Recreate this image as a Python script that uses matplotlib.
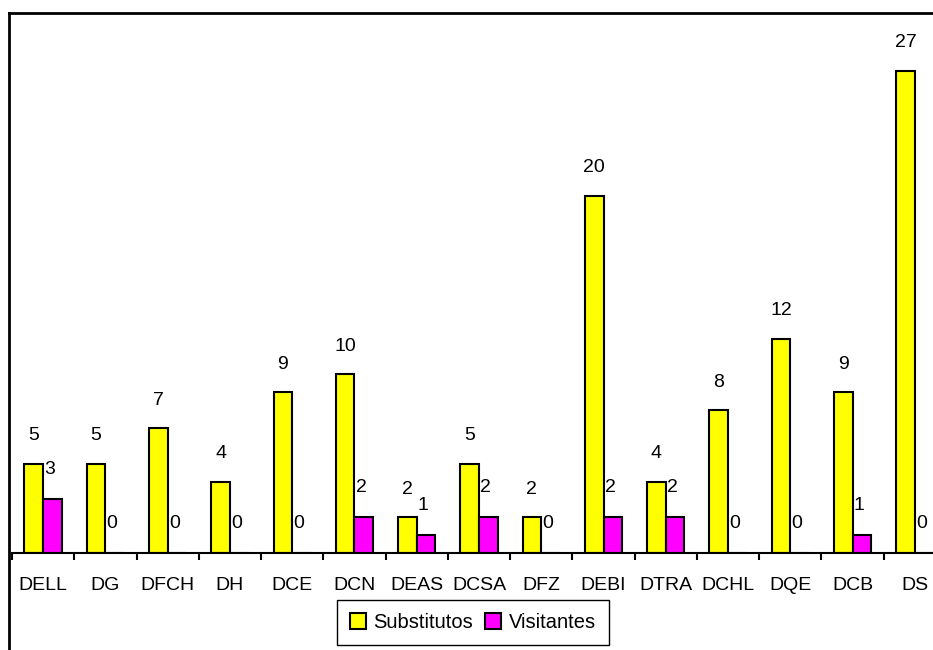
import matplotlib
matplotlib.use("Agg")
import matplotlib.pyplot as plt
import numpy as np
from matplotlib.lines import Line2D

categorias = ["DELL", "DG", "DFCH", "DH", "DCE", "DCN", "DEAS", "DCSA",
              "DFZ", "DEBI", "DTRA", "DCHL", "DQE", "DCB", "DS"]
substitutos = [5, 5, 7, 4, 9, 10, 2, 5, 2, 20, 4, 8, 12, 9, 27]
visitantes = [3, 0, 0, 0, 0, 2, 1, 2, 0, 2, 2, 0, 0, 1, 0]

plt.rcParams.update({
    'font.family': ['Liberation Sans', 'DejaVu Sans'],
    'font.size': 14,
})

W, H = 933, 650
fig = plt.figure(figsize=(W / 100, H / 100), dpi=100)

# área do gráfico (passa um pouco da borda direita, como no original)
x0, x1 = 12 / W, 946 / W
y_base, y_top = (H - 553) / H, (H - 17) / H
ax = fig.add_axes([x0, y_base, x1 - x0, y_top - y_base])

x = np.arange(len(categorias))
largura = 0.3
b1 = ax.bar(x - largura / 2, substitutos, largura, color='#FFFF00',
            edgecolor='black', linewidth=1.5, label='Substitutos')
b2 = ax.bar(x + largura / 2, visitantes, largura, color='#FF00FF',
            edgecolor='black', linewidth=1.5, label='Visitantes')

# rótulos de valor
for xi, v in zip(x, substitutos):
    ax.annotate(str(v), (xi - largura / 2, v), xytext=(0, 20),
                textcoords='offset points', ha='center', va='center')
for xi, v in zip(x, visitantes):
    ax.annotate(str(v), (xi + largura / 2, v), xytext=(-2, 21.5),
                textcoords='offset points', ha='center', va='center')

ax.set_xlim(-0.5, len(categorias) - 0.5)
ax.set_ylim(0, 30)
ax.set_xticks(x)
ax.set_xticklabels(categorias)
ax.set_xticks(np.arange(len(categorias) + 1) - 0.5, minor=True)
ax.tick_params(axis='x', which='major', length=0, pad=17)
ax.tick_params(axis='x', which='minor', length=5, width=1.5, direction='out')
ax.set_yticks([])
for s in ['top', 'right', 'left']:
    ax.spines[s].set_visible(False)
ax.spines['bottom'].set_linewidth(1.5)
ax.patch.set_alpha(0)

# borda do quadro (cortada à direita e embaixo)
fig.add_artist(Line2D([9 / W, 9 / W], [0, (H - 13) / H], color='black',
                      linewidth=2, transform=fig.transFigure))
fig.add_artist(Line2D([9 / W, 1], [(H - 13) / H, (H - 13) / H], color='black',
                      linewidth=2, transform=fig.transFigure))

fig.legend(handles=[b1, b2], loc='center', ncol=2,
           bbox_to_anchor=(473 / W, 1 - 622.5 / H), frameon=True,
           fancybox=False, edgecolor='black', framealpha=1,
           handlelength=0.8, handleheight=0.8, handletextpad=0.35,
           columnspacing=0.6, borderpad=0.65, borderaxespad=0,
           fontsize=14.5)

fig.savefig('out.png', dpi=100)
